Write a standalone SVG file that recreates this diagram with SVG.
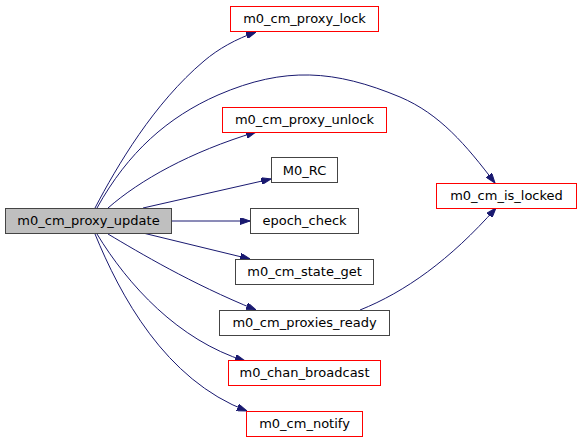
<svg xmlns="http://www.w3.org/2000/svg" width="581" height="443" viewBox="0 0 581 443">
<style>
.n rect{stroke:#444;stroke-width:1;fill:#fff}
.n.red rect{stroke:#ff0000}
.n.cur rect{fill:#bfbfbf}
.n text{font-family:"DejaVu Sans",sans-serif;font-size:13px;fill:#000;text-anchor:middle}
.e path{fill:none;stroke:#191970;stroke-width:1;marker-end:url(#ah)}
</style>
<defs>
<marker id="ah" viewBox="0 0 10 7" refX="10" refY="3.5" markerWidth="10" markerHeight="7" markerUnits="userSpaceOnUse" orient="auto">
<path d="M0,0 L10,3.5 L0,7 z" fill="#191970" stroke="#191970"/>
</marker>
</defs>
<rect width="581" height="443" fill="#fff"/>
<g id="edges" class="e">
<path d="M95,208 C117,166 154,103 204,61 C218,49 236,39 256,32"/>
<path d="M97,208 C128,152 168,117 218,95 C285,66 335,70 400,97 C440,114 466,145 495,183"/>
<path d="M108,208 C140,180 190,152 256,132"/>
<path d="M143,208 L271,179"/>
<path d="M172,221 L250,221"/>
<path d="M143,233 L250,259"/>
<path d="M108,234 C140,253 190,283 256,310"/>
<path d="M97,234 C128,285 178,340 245,361"/>
<path d="M95,234 C120,295 165,380 247,411"/>
<path d="M360,310 C405,292 450,260 496,208"/>
</g>
<g id="node_update" class="n cur"><rect x="5.5" y="208.5" width="166" height="25"/><text x="88.5" y="225">m0_cm_proxy_update</text></g>
<g id="node_lock" class="n red"><rect x="230.5" y="6.5" width="148" height="25"/><text x="304.5" y="23">m0_cm_proxy_lock</text></g>
<g id="node_unlock" class="n red"><rect x="222.5" y="107.5" width="164" height="25"/><text x="304.5" y="124">m0_cm_proxy_unlock</text></g>
<g id="node_rc" class="n"><rect x="271.5" y="157.5" width="66" height="25"/><text x="304.5" y="174.5">M0_RC</text></g>
<g id="node_epoch" class="n"><rect x="250.5" y="208.5" width="108" height="25"/><text x="304.5" y="225">epoch_check</text></g>
<g id="node_state" class="n"><rect x="235.5" y="259.5" width="138" height="25"/><text x="304.5" y="276">m0_cm_state_get</text></g>
<g id="node_ready" class="n"><rect x="219.5" y="310.5" width="170" height="25"/><text x="304.5" y="327">m0_cm_proxies_ready</text></g>
<g id="node_bcast" class="n red"><rect x="228.5" y="360.5" width="152" height="25"/><text x="304.5" y="377">m0_chan_broadcast</text></g>
<g id="node_notify" class="n red"><rect x="246.5" y="411.5" width="116" height="25"/><text x="304.5" y="428">m0_cm_notify</text></g>
<g id="node_islocked" class="n red"><rect x="436.5" y="183.5" width="140" height="25"/><text x="506.5" y="200">m0_cm_is_locked</text></g>
</svg>
